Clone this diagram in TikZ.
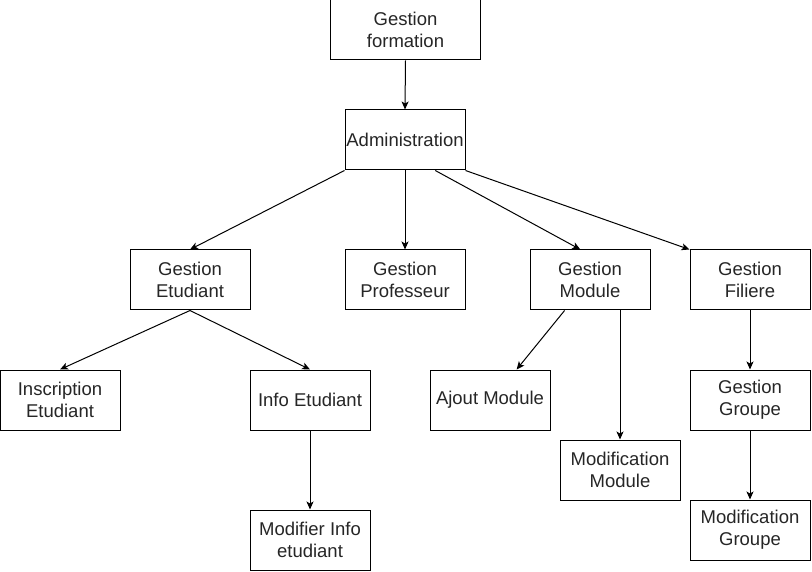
\documentclass[tikz,border=0pt]{standalone}
\usepackage{fontspec}
\setmainfont{Liberation Sans}
\usetikzlibrary{arrows.meta,calc}
\begin{document}
\begin{tikzpicture}[x=1pt,y=-1pt,
  box/.style={draw=black,line width=1pt,fill=white,minimum width=120pt,minimum height=60pt,
    inner sep=0pt,align=center,font=\fontsize{18.5}{22}\selectfont,text=black!85},
  arr/.style={draw=black,line width=1pt,-{Stealth[length=8pt,width=7pt,inset=2pt]}}]
\useasboundingbox (0,0) rectangle (812,572);
\node[box,minimum width=150pt] (gfo) at (405.5,30) {Gestion\\formation};
\node[box] (adm) at (405,140) {Administration};
\node[box] (ge) at (190,280) {Gestion\\Etudiant};
\node[box] (gp) at (405,280) {Gestion\\Professeur};
\node[box] (gm) at (590,280) {Gestion\\Module};
\node[box] (gf) at (750,280) {Gestion\\Filiere};
\node[box] (ins) at (60,400) {Inscription\\Etudiant};
\node[box] (info) at (310,400) {Info Etudiant};
\node[box] (aj) at (490,400) {Ajout Module};
\node[box] (mm) at (620,470) {Modification\\Module};
\node[box] (gg) at (750,400) {Gestion\\Groupe};
\node[box] (mi) at (310,540) {Modifier Info\\etudiant};
\node[box] (mg) at (750,530) {Modification\\Groupe};
\draw[arr] (gfo.south) -- (adm.north);
\draw[arr] (adm.south west) -- (ge.north);
\draw[arr] (adm.south) -- (gp.north);
\draw[arr] ($(adm.south)!0.5!(adm.south east)$) -- ($(gm.north west)!0.42!(gm.north east)$);
\draw[arr] (adm.south east) -- (gf.north west);
\draw[arr] (ge.south) -- (ins.north);
\draw[arr] (ge.south) -- (info.north);
\draw[arr] ($(gm.south west)!0.29!(gm.south east)$) -- ($(aj.north west)!0.72!(aj.north east)$);
\draw[arr] (mm.north |- gm.south) -- (mm.north);
\draw[arr] (gf.south) -- (gg.north);
\draw[arr] (info.south) -- (mi.north);
\draw[arr] (gg.south) -- (mg.north);
\end{tikzpicture}
\end{document}
